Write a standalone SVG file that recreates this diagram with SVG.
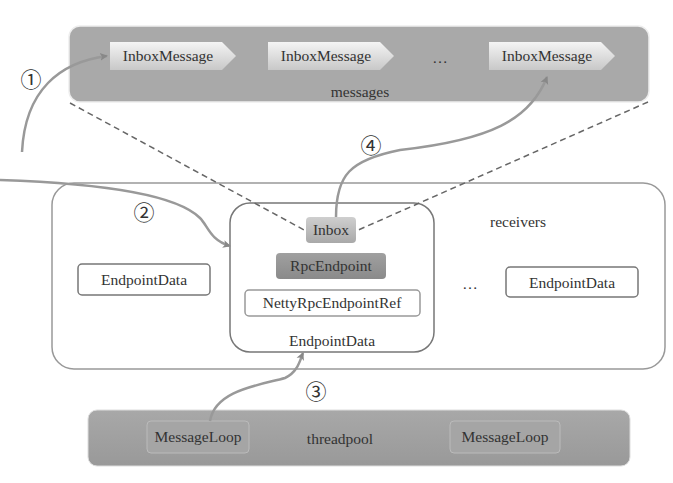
<svg xmlns="http://www.w3.org/2000/svg" width="673" height="483" viewBox="0 0 673 483">
<defs>
<linearGradient id="tagG" x1="0" y1="0" x2="0" y2="1"><stop offset="0" stop-color="#f4f4f4"/><stop offset="1" stop-color="#c8c8c8"/></linearGradient>
<linearGradient id="inboxG" x1="0" y1="0" x2="0" y2="1"><stop offset="0" stop-color="#cfcfcf"/><stop offset="1" stop-color="#a9a9a9"/></linearGradient>
<linearGradient id="rpcG" x1="0" y1="0" x2="0" y2="1"><stop offset="0" stop-color="#a0a0a0"/><stop offset="1" stop-color="#8a8a8a"/></linearGradient>
<linearGradient id="poolG" x1="0" y1="0" x2="0" y2="1"><stop offset="0" stop-color="#a8a8a8"/><stop offset="1" stop-color="#999"/></linearGradient>
<marker id="arr" markerWidth="10" markerHeight="10" refX="7" refY="5" orient="auto" markerUnits="userSpaceOnUse"><path d="M0,1 L8,5 L0,9 L2,5 Z" fill="#888"/></marker>
</defs>
<style>
text{font-family:"Liberation Serif","DejaVu Serif","Noto Sans CJK SC",serif;fill:#333;font-size:15.5px;text-anchor:middle}
.num{font-family:"Noto Sans CJK SC","DejaVu Sans",sans-serif;font-size:21px;fill:#333}
.conn{fill:none;stroke:#999;stroke-width:2.5}
.dash{fill:none;stroke:#666;stroke-width:1.5;stroke-dasharray:6,4}
.tag{fill:url(#tagG)}
.wbox{fill:#fff;stroke:#777;stroke-width:1.5}
</style>
<rect width="673" height="483" fill="#fff"/>
<g id="messages">
<rect x="69" y="26" width="580" height="76" rx="11" fill="#a9a9a9" stroke="#eee" stroke-width="1.5"/>
<text x="360" y="97">messages</text>
<text x="440" y="63">…</text>
</g>
<g id="msg1"><path class="tag" d="M110,42 H222 L236,56 L222,70 H110 Z"/><text x="168" y="61">InboxMessage</text></g>
<g id="msg2"><path class="tag" d="M268,42 H380 L394,56 L380,70 H268 Z"/><text x="326" y="61">InboxMessage</text></g>
<g id="msg3"><path class="tag" d="M489,42 H601 L615,56 L601,70 H489 Z"/><text x="547" y="61">InboxMessage</text></g>
<g id="receivers">
<rect x="52" y="183" width="613" height="186" rx="22" fill="#fff" stroke="#999" stroke-width="1.5"/>
<text x="518" y="227">receivers</text>
<text x="470" y="289">…</text>
</g>
<g id="endpointLeft"><rect class="wbox" x="78" y="264" width="132" height="31" rx="4"/><text x="144" y="285">EndpointData</text></g>
<g id="endpointRight"><rect class="wbox" x="506" y="267" width="132" height="30" rx="4"/><text x="572" y="288">EndpointData</text></g>
<g id="endpointMain">
<rect x="230" y="203" width="204" height="149" rx="20" fill="#fff" stroke="#777" stroke-width="1.5"/>
<text x="332" y="346">EndpointData</text>
</g>
<g id="inbox"><rect x="306" y="217" width="50" height="26" rx="4" fill="url(#inboxG)"/><text x="331" y="235">Inbox</text></g>
<g id="rpcEndpoint"><rect x="276" y="253" width="110" height="26" rx="4" fill="url(#rpcG)"/><text x="331" y="271" fill="#444">RpcEndpoint</text></g>
<g id="nettyRef"><rect x="245" y="290" width="175" height="26" rx="4" fill="#fff" stroke="#999" stroke-width="1.5"/><text x="332" y="308">NettyRpcEndpointRef</text></g>
<g id="threadpool">
<rect x="88" y="410" width="542" height="56" rx="9" fill="url(#poolG)" stroke="#ddd" stroke-width="1"/>
<text x="340" y="444">threadpool</text>
</g>
<g id="loop1"><rect x="147" y="421" width="102" height="32" rx="4" fill="#a5a5a5" stroke="#bbb" stroke-width="1"/><text x="198" y="442" fill="#444">MessageLoop</text></g>
<g id="loop2"><rect x="450" y="421" width="110" height="32" rx="4" fill="#a5a5a5" stroke="#bbb" stroke-width="1"/><text x="505" y="442" fill="#444">MessageLoop</text></g>
<g id="connectors">
<path class="dash" d="M70,103 L306,231"/>
<path class="dash" d="M648,102 L356,231"/>
<path class="conn" marker-end="url(#arr)" d="M22,152 C25,90 60,62 107,56"/>
<path class="conn" marker-end="url(#arr)" d="M0,180 C60,182 170,188 200,218 C208,226 210,240 230,246"/>
<path class="conn" marker-end="url(#arr)" d="M210,421 C215,390 260,385 285,378 C298,372 300,360 303,353"/>
<path class="conn" marker-end="url(#arr)" d="M336,217 C336,175 350,160 400,150 C490,140 530,120 547,77"/>
<text class="num" x="31" y="87">①</text>
<text class="num" x="144" y="220">②</text>
<text class="num" x="316" y="399">③</text>
<text class="num" x="371" y="153">④</text>
</g>
</svg>
